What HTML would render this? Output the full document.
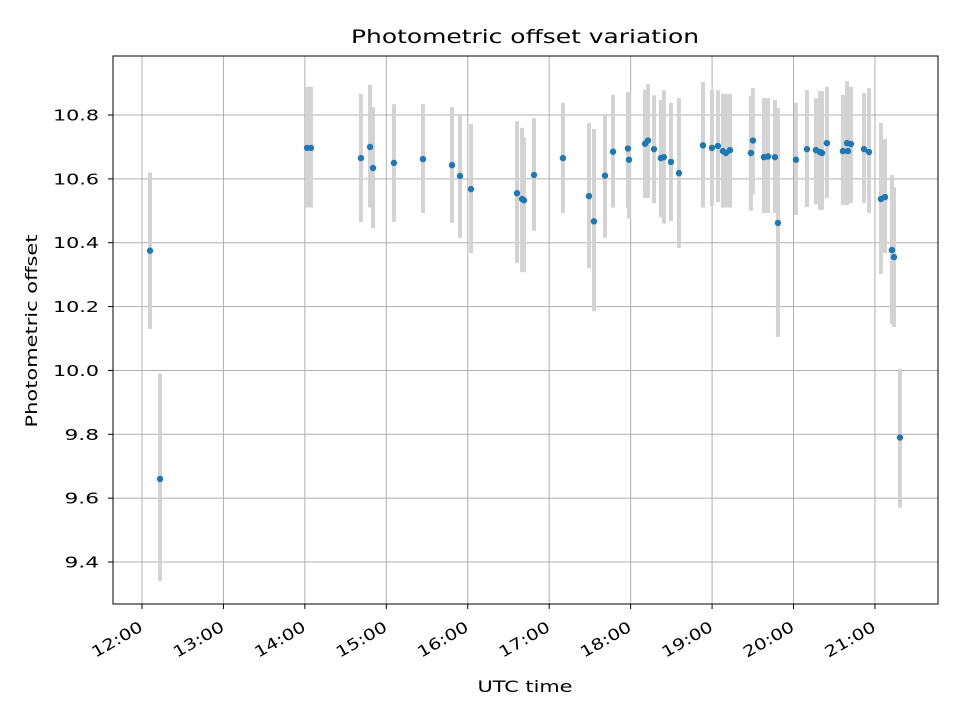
<!DOCTYPE html>
<html><head><meta charset="utf-8"><style>
body{margin:0;background:#fff;}
svg text{font-family:"DejaVu Sans","Liberation Sans",sans-serif;fill:#000;}
</style></head><body>
<svg id="chart" width="960" height="720" xmlns="http://www.w3.org/2000/svg">
<rect width="960" height="720" fill="#fff"/>
<g id="grid"></g>
<g id="bars"></g>
<g id="pts"></g>
<rect x="113" y="56" width="825" height="548" fill="none" stroke="#000" stroke-width="1"/>
<g id="axes"></g>
<text x="525" y="43" font-size="19" text-anchor="middle" textLength="348" lengthAdjust="spacingAndGlyphs">Photometric offset variation</text>
<text x="525" y="692" font-size="16" text-anchor="middle" textLength="95" lengthAdjust="spacingAndGlyphs">UTC time</text>
<text x="37" y="331" font-size="16" text-anchor="middle" transform="rotate(-90 37 331)" textLength="193" lengthAdjust="spacingAndGlyphs">Photometric offset</text>
</svg>
<script>
// minutes since 12:00 UTC
const times=[5.9,13.3,121.6,124.5,161.3,168,170.2,185.6,207,228.4,234.3,242.4,276.3,280,281.4,288.8,310.1,329.3,333,341.1,347,358,358.8,370.6,372.8,377.2,382.3,384.5,389.7,395.6,413.3,419.9,424.3,428,430.2,433.2,448.6,450.1,458.2,461.2,466.3,468.5,481.8,489.9,496.5,499.5,501,504.6,516.4,519.4,520.1,522.3,531.9,535.6,544.4,547.4,552.5,554,558.4];
const values=[10.375,9.66,10.697,10.697,10.665,10.7,10.634,10.65,10.662,10.643,10.609,10.568,10.555,10.537,10.533,10.612,10.665,10.546,10.467,10.61,10.685,10.695,10.66,10.71,10.72,10.693,10.665,10.668,10.653,10.618,10.705,10.697,10.703,10.687,10.681,10.69,10.681,10.72,10.668,10.67,10.668,10.462,10.66,10.693,10.69,10.684,10.681,10.712,10.687,10.712,10.687,10.709,10.693,10.684,10.537,10.543,10.377,10.355,9.79];
const upper=[10.62,9.99,10.888,10.888,10.866,10.894,10.825,10.834,10.834,10.825,10.803,10.772,10.781,10.76,10.73,10.79,10.838,10.775,10.756,10.8,10.863,10.872,10.872,10.88,10.897,10.862,10.847,10.878,10.838,10.853,10.903,10.878,10.878,10.866,10.866,10.866,10.86,10.885,10.853,10.853,10.847,10.822,10.838,10.878,10.853,10.875,10.875,10.888,10.863,10.906,10.863,10.888,10.869,10.884,10.775,10.725,10.612,10.574,10.005];
const lower=[10.13,9.34,10.51,10.51,10.465,10.51,10.446,10.465,10.493,10.462,10.415,10.368,10.336,10.308,10.308,10.437,10.493,10.32,10.185,10.415,10.51,10.51,10.475,10.54,10.54,10.524,10.48,10.46,10.468,10.383,10.51,10.515,10.527,10.51,10.51,10.51,10.5,10.552,10.493,10.493,10.493,10.105,10.487,10.512,10.52,10.503,10.503,10.54,10.518,10.518,10.524,10.524,10.524,10.493,10.302,10.368,10.145,10.136,9.57];
const yTicks=[9.4,9.6,9.8,10.0,10.2,10.4,10.6,10.8];
const xTickLabels=["12:00","13:00","14:00","15:00","16:00","17:00","18:00","19:00","20:00","21:00"];
const NS="http://www.w3.org/2000/svg";
const L=113,R=938,T=56,B=604;
function xs(m){return 142+m/60*81.44;}
function ys(v){return 115+(10.8-v)*319.3;}
function mk(tag,attrs,parent){const e=document.createElementNS(NS,tag);for(const k in attrs)e.setAttribute(k,attrs[k]);parent.appendChild(e);return e;}
const grid=document.getElementById('grid'),axes=document.getElementById('axes'),bars=document.getElementById('bars'),pts=document.getElementById('pts');
yTicks.forEach(v=>{const y=ys(v);
 const g=mk('line',{x1:L,x2:R,y1:y,y2:y,stroke:'#b0b0b0','stroke-width':1},grid);
 
 mk('line',{x1:L-5,x2:L,y1:y,y2:y,stroke:'#000'},axes);
 const s=v.toFixed(1);
 const t=mk('text',{x:L-14,y:y+5.5,'font-size':15.5,'text-anchor':'end',textLength:s.length*11.5,lengthAdjust:'spacingAndGlyphs'},axes);t.textContent=s;
 
});
xTickLabels.forEach((s,i)=>{const x=xs(i*60);
 const g=mk('line',{x1:x,x2:x,y1:T,y2:B,stroke:'#b0b0b0','stroke-width':1},grid);
 
 mk('line',{x1:x,x2:x,y1:B,y2:B+5,stroke:'#000'},axes);
 const ax=x+2,ay=B+26;
 const t=mk('text',{x:ax,y:ay,'font-size':15.5,'text-anchor':'end',textLength:56,lengthAdjust:'spacingAndGlyphs',transform:`rotate(-30 ${ax} ${ay})`},axes);t.textContent=s;
 
});
times.forEach((m,i)=>{const x=xs(m);
 const b=mk('line',{x1:x,x2:x,y1:ys(upper[i]),y2:ys(lower[i]),stroke:'#d3d3d3','stroke-width':4},bars);
 
});
times.forEach((m,i)=>{
 const c=mk('circle',{cx:xs(m),cy:ys(values[i]),r:3.2,fill:'#1f77b4'},pts);
 
});
</script>
</body></html>
